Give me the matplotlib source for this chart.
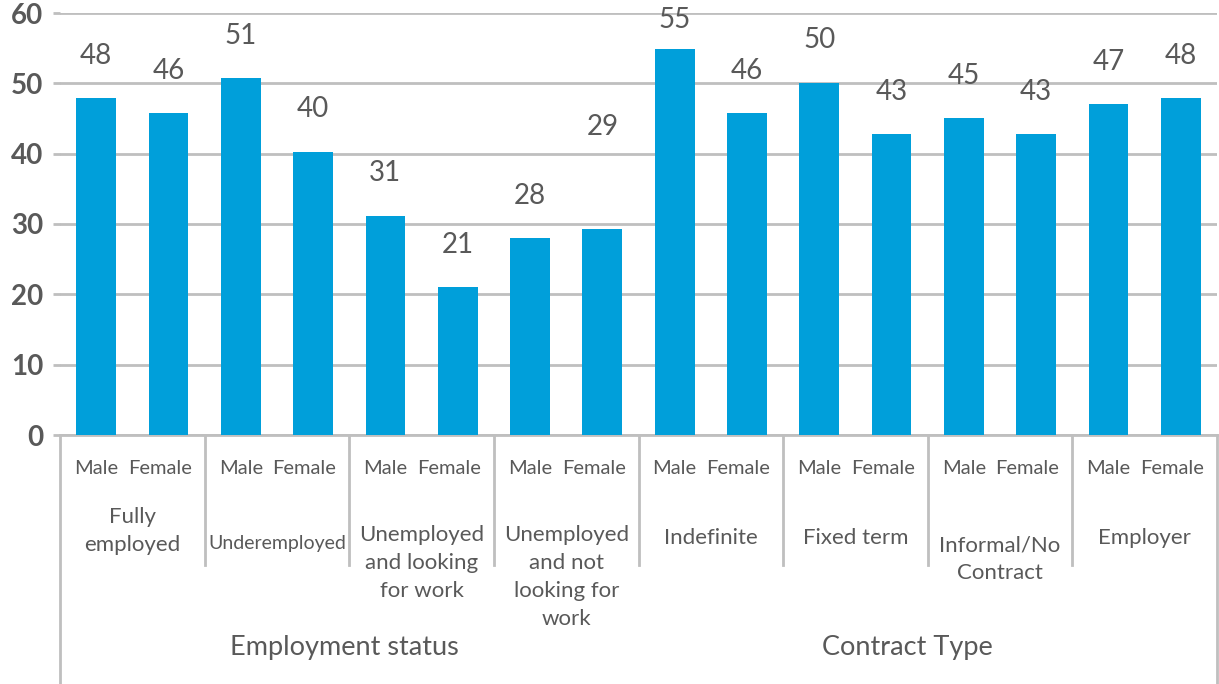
import matplotlib.pyplot as plt
from matplotlib.lines import Line2D
from matplotlib.transforms import blended_transform_factory

# share of respondents by employment status / contract type and sex
GENDERS = ["Male", "Female"]
GROUPS = [
    "Fully\nemployed",
    "Underemployed",
    "Unemployed\nand looking\nfor work",
    "Unemployed\nand not\nlooking for\nwork",
    "Indefinite",
    "Fixed term",
    "Informal/No\nContract",
    "Employer",
]
SECTIONS = ["Employment status", "Contract Type"]
GROUPS_PER_SECTION = [4, 4]
VALUES = [47.9, 45.8, 50.8, 40.3, 31.2, 21.0, 28.0, 29.3,
          54.9, 45.8, 50.1, 42.8, 45.1, 42.8, 47.1, 47.9]

BAR_COLOR = "#009fda"
TEXT_COLOR = "#595959"
GRID_COLOR = "#bfbfbf"
FONT = ["Lato", "DejaVu Sans"]

W, H = 1219, 684


def fy(py):
    return 1 - py / H


fig = plt.figure(figsize=(W / 100, H / 100), dpi=100)
ax = fig.add_axes([60 / W, fy(435), (1217 - 60) / W, (435 - 13) / H])

x = list(range(len(VALUES)))
ax.bar(x, VALUES, width=0.55, color=BAR_COLOR, zorder=3)
ax.set_xlim(-0.5, len(VALUES) - 0.5)
ax.set_ylim(0, 60)
ax.set_yticks(range(0, 61, 10))
ax.yaxis.grid(True, color=GRID_COLOR, linewidth=2, zorder=0)
ax.set_axisbelow(True)
ax.set_xticks([])
for side in ("top", "right", "left"):
    ax.spines[side].set_visible(False)
ax.spines["bottom"].set_color(GRID_COLOR)
ax.spines["bottom"].set_linewidth(2)
ax.tick_params(axis="y", length=5, width=2, color=GRID_COLOR, pad=7)
for lbl in ax.get_yticklabels():
    lbl.set_fontfamily(FONT)
    lbl.set_fontsize(20)
    lbl.set_fontweight("bold")
    lbl.set_color(TEXT_COLOR)

# value labels; a couple sit off their usual spot
label_y = {7: 43.8, 8: 59.0}
for i, v in enumerate(VALUES):
    ax.text(i, label_y.get(i, v + 6), f"{v:.0f}", ha="center", va="center",
            fontsize=20, color=TEXT_COLOR, family=FONT)

# category axis below the plot
trans = blended_transform_factory(ax.transData, fig.transFigure)
gender_shift = [0.0, -0.12]
for i in x:
    ax.text(i + gender_shift[i % 2], fy(468), GENDERS[i % 2], transform=trans,
            ha="center", va="center", fontsize=14.5, color=TEXT_COLOR,
            family=FONT)

group_y = [531, 543, 563, 577, 538, 538, 559, 538]
group_size = [16, 14, 16, 16, 16, 16, 16, 16]
for g, name in enumerate(GROUPS):
    ax.text(2 * g + 0.5, fy(group_y[g]), name, transform=trans, ha="center",
            va="center", fontsize=group_size[g], color=TEXT_COLOR,
            family=FONT, linespacing=1.5)

for g in range(1, len(GROUPS)):
    ax.add_line(Line2D([2 * g - 0.5] * 2, [fy(435), fy(565)], transform=trans,
                       color=GRID_COLOR, linewidth=2, clip_on=False))
for edge in (-0.5, len(VALUES) - 0.5):
    ax.add_line(Line2D([edge] * 2, [fy(435), fy(684)], transform=trans,
                       color=GRID_COLOR, linewidth=2, clip_on=False))

start = 0
section_shift = [-0.07, -0.28]
for s, name in enumerate(SECTIONS):
    n = GROUPS_PER_SECTION[s] * 2
    ax.text(start + (n - 1) / 2 + section_shift[s], fy(647), name,
            transform=trans, ha="center", va="center", fontsize=19.5,
            color=TEXT_COLOR, family=FONT)
    start += n

fig.savefig("out.png", dpi=100)
